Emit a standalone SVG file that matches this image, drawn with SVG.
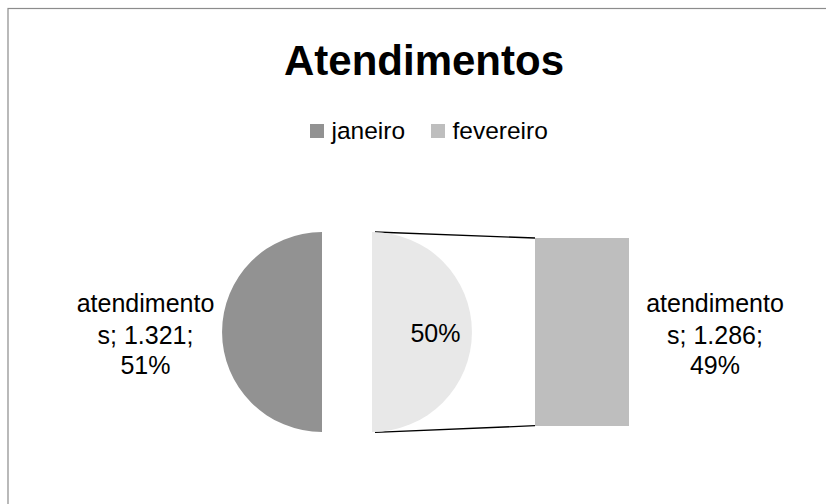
<svg xmlns="http://www.w3.org/2000/svg" width="826" height="504" viewBox="0 0 826 504">
<style>
text { font-family: "Liberation Sans", Arial, sans-serif; fill: #000; }
.title { font-size: 42px; font-weight: bold; }
.leg { font-size: 24.5px; }
.lbl { font-size: 25px; }
.conn { stroke: #000; stroke-width: 1.3; fill: none; }
</style>
<rect x="0" y="0" width="826" height="504" fill="#fff"/>
<rect x="8" y="8.5" width="830" height="510" fill="none" stroke="#8c8c8c" stroke-width="1.2"/>
<g id="title"><text class="title" x="424" y="75" text-anchor="middle">Atendimentos</text></g>
<g id="legend">
<rect x="310" y="124" width="14" height="14" fill="#929292"/>
<text class="leg" x="331.5" y="139">janeiro</text>
<rect x="431" y="124" width="14" height="14" fill="#bebebe"/>
<text class="leg" x="452.5" y="139">fevereiro</text>
</g>
<g id="connectors">
<line class="conn" x1="375" y1="232" x2="535" y2="238"/>
<line class="conn" x1="375" y1="432.3" x2="535" y2="425.7"/>
</g>
<g id="janeiro-slice"><path d="M322,232 A100,100 0 0 0 322,432 Z" fill="#929292"/></g>
<g id="fevereiro-slice"><path d="M372,232 A100,100 0 0 1 372,432 Z" fill="#e8e8e8"/>
<text class="lbl" x="435.5" y="342" text-anchor="middle">50%</text></g>
<g id="fevereiro-bar"><rect x="535" y="238" width="94" height="188" fill="#bebebe"/></g>
<g id="label-janeiro">
<text class="lbl" x="145.5" y="312" text-anchor="middle">atendimento</text>
<text class="lbl" x="145.5" y="343.5" text-anchor="middle">s; 1.321;</text>
<text class="lbl" x="145.5" y="374" text-anchor="middle">51%</text>
</g>
<g id="label-fevereiro">
<text class="lbl" x="715" y="312" text-anchor="middle">atendimento</text>
<text class="lbl" x="715" y="343.5" text-anchor="middle">s; 1.286;</text>
<text class="lbl" x="715" y="374" text-anchor="middle">49%</text>
</g>
</svg>
